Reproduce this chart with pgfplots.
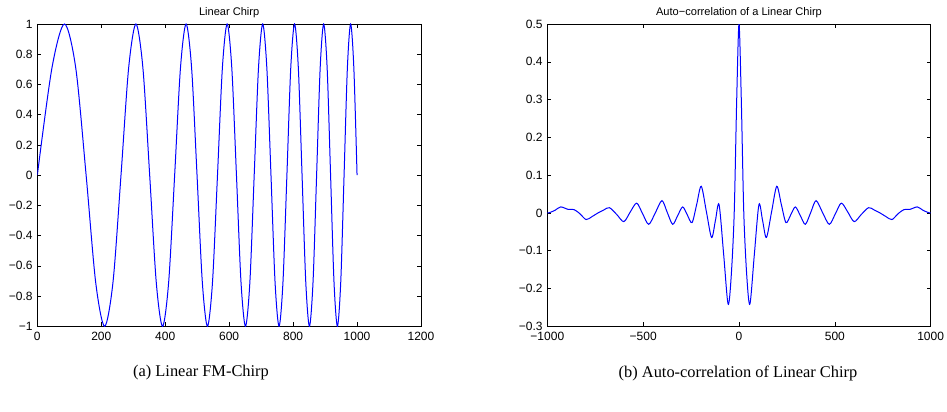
\documentclass[border=0pt]{standalone}
\usepackage{pgfplots}
\pgfplotsset{compat=1.18}
\usepackage{fontspec}
\setmainfont{Liberation Serif}
\newfontfamily\helv{Liberation Sans}

\pgfplotsset{
  matstyle/.style={
    scale only axis,
    anchor=south west,
    axis line style={line width=0.5pt},
    tick align=inside,
    major tick length=3pt,
    tick style={black, line width=0.4pt},
    xtick pos=both, ytick pos=both,
    xticklabel pos=lower, yticklabel pos=left,
    ticklabel style={font=\helv\fontsize{9}{10}\selectfont},
    xticklabel style={yshift=-1pt},
    title style={font=\helv\fontsize{8.3}{10}\selectfont, yshift=-5.2pt},
    clip=true,
  }
}

\begin{document}
\begin{tikzpicture}
\useasboundingbox (0pt,0pt) rectangle (710.25pt,308.25pt);

\begin{axis}[matstyle,
  at={(28pt,63.5pt)}, width=287.75pt, height=226.75pt,
  xmin=0, xmax=1200, ymin=-1, ymax=1,
  xtick={0,200,400,600,800,1000,1200},
  xticklabels={0,200,400,600,800,1000,1200},
  ytick={-1,-0.8,-0.6,-0.4,-0.2,0,0.2,0.4,0.6,0.8,1},
  yticklabels={−1,−0.8,−0.6,−0.4,−0.2,0,0.2,0.4,0.6,0.8,1},
  title={Linear Chirp},
]
\addplot[blue, line width=0.75pt, smooth, no markers] coordinates {
(0,0) (45.5,0.707) (85.0,1) (120.3,0.707) (152.6,0) (182.4,-0.707) (210.4,-1) (236.7,-0.707)
(261.7,0) (285.5,0.707) (308.4,1) (330.3,0.707) (351.4,0) (371.9,-0.707) (391.6,-1) (410.8,-0.707)
(429.5,0) (447.6,0.707) (465.3,1) (482.6,0.707) (499.5,0) (516.0,-0.707) (532.1,-1) (547.9,-0.707)
(563.5,0) (578.7,0.707) (593.7,1) (608.3,0.707) (622.8,0) (637.0,-0.707) (651.0,-1) (664.8,-0.707)
(678.3,0) (691.7,0.707) (704.9,1) (717.9,0.707) (730.8,0) (743.5,-0.707) (756.0,-1) (768.3,-0.707)
(780.6,0) (792.6,0.707) (804.6,1) (816.4,0.707) (828.0,0) (839.6,-0.707) (851.0,-1) (862.3,-0.707)
(873.5,0) (884.6,0.707) (895.6,1) (906.5,0.707) (917.2,0) (927.9,-0.707) (938.5,-1) (949.0,-0.707)
(959.4,0) (969.7,0.707) (979.9,1) (990.0,0.707) (1000,0)
};
\end{axis}

\begin{axis}[matstyle,
  at={(410.5pt,63.5pt)}, width=287.5pt, height=226.75pt,
  xmin=-1000, xmax=1000, ymin=-0.3, ymax=0.5,
  xtick={-1000,-500,0,500,1000},
  xticklabels={−1000,−500,0,500,1000},
  ytick={-0.3,-0.2,-0.1,0,0.1,0.2,0.3,0.4,0.5},
  yticklabels={−0.3,−0.2,−0.1,0,0.1,0.2,0.3,0.4,0.5},
  title={Auto\hbox{−}correlation of a Linear Chirp},
]
\addplot[blue, line width=0.75pt, smooth, no markers] coordinates {
(-1000,0) (-988,0.001) (-960,0.007) (-930,0.016) (-892,0.0095) (-861,0.009) (-830,-0.002) (-798,-0.0175)
(-768,-0.010) (-736,0) (-705,0.008) (-676,0.014) (-638,-0.004) (-601,-0.023) (-568,0.002)
(-534,0.026) (-503,-0.002) (-471,-0.030) (-436,0.001) (-402,0.0326) (-374,0.001) (-346,-0.030)
(-320,-0.007) (-294,0.016) (-270,-0.005) (-245,-0.0255) (-221,0.022) (-197,0.0705) (-170,0.003)
(-143,-0.065) (-123,-0.02) (-104,0.022) (-80,-0.11) (-57,-0.241) (-41,-0.17) (-25,0) (-12,0.30)
(0,0.5)
(12,0.30) (25,0) (41,-0.17) (57,-0.241) (80,-0.11) (104,0.022) (123,-0.02) (143,-0.065)
(170,0.003) (197,0.0705) (221,0.022) (245,-0.0255) (270,-0.005) (294,0.016) (320,-0.007)
(346,-0.030) (374,0.001) (402,0.0326) (436,0.001) (471,-0.030) (503,-0.002) (534,0.026)
(568,0.002) (601,-0.023) (638,-0.004) (676,0.014) (705,0.008) (736,0) (768,-0.010)
(798,-0.0175) (830,-0.002) (861,0.009) (892,0.0095) (930,0.016) (960,0.007) (988,0.001) (1000,0)
};
\end{axis}

\node[font=\fontsize{12.3}{14}\selectfont] at (150.75pt,28.5pt) {(a) Linear FM-Chirp};
\node[font=\fontsize{12.3}{14}\selectfont] at (553.5pt,28.5pt) {(b) Auto-correlation of Linear Chirp};
\end{tikzpicture}
\end{document}
